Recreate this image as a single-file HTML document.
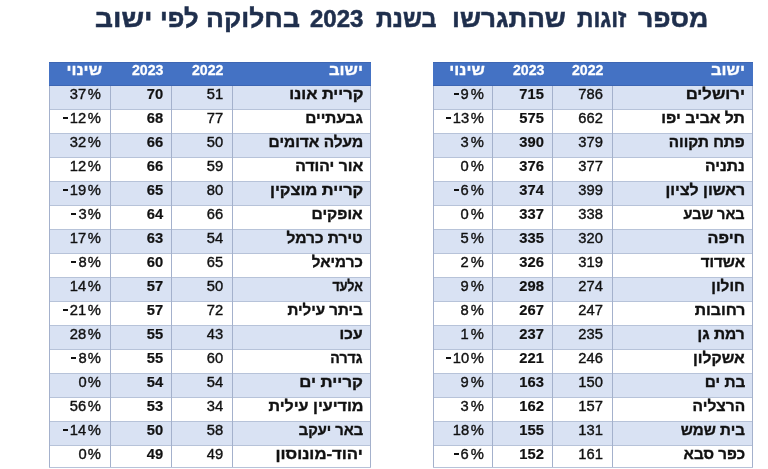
<!DOCTYPE html>
<html lang="he">
<head>
<meta charset="utf-8">
<title>מספר זוגות שהתגרשו בשנת 2023 בחלוקה לפי ישוב</title>
<style>
html,body{margin:0;padding:0;background:#fff;}
body{width:768px;height:469px;position:relative;overflow:hidden;font-family:"Liberation Sans",sans-serif;color:#111;}
.title{position:absolute;left:0;width:768px;top:1.6px;height:34px;line-height:34px;text-align:center;direction:rtl;white-space:nowrap;
  font-weight:bold;font-size:27px;color:#1f2f4d;-webkit-text-stroke:0.55px #1f2f4d;}
.title .tw{position:absolute;top:0;display:block;transform-origin:left center;direction:rtl;}
.title .yr{font-size:24px;top:0.8px;}
.pg{position:absolute;left:0;top:0;width:768px;height:469px;filter:blur(0.55px);}
.tbl{position:absolute;overflow:hidden;border-bottom:1px solid #b7c3d9;box-sizing:border-box;}
.hdr{position:absolute;left:0;top:0;width:100%;background:#4472c4;box-sizing:border-box;border-top:1px solid #3d66b3;border-bottom:1px solid #3d66b3;}
.row{position:absolute;left:0;width:100%;background:#fff;box-sizing:border-box;border-bottom:1px solid #b7c3d9;}
.row.band{background:#d9e2f3;}
.c{position:absolute;top:0;height:100%;box-sizing:border-box;padding-right:8px;padding-bottom:6px;display:flex;align-items:center;justify-content:flex-end;white-space:nowrap;}
.c span{display:inline-block;}
.c.n{font-size:15.5px;-webkit-text-stroke:0.4px #111;}
.c.n span,.c.h.nu span{transform:scaleX(0.95);transform-origin:right center;}
.c.n span.d{margin-right:1.2px;}
.c.n i.m{display:block;width:5px;height:1.6px;background:#111;}
.c.h.he span{transform:scaleY(0.9);transform-origin:right center;}
.c.b{font-weight:bold;-webkit-text-stroke:0.2px #111;padding-right:8.8px;}
.c.c1{padding-right:8.9px;}
.c.c3{padding-right:9.3px;}
.c.nm span{transform-origin:right center;}
.c.nm{font-weight:bold;font-size:16px;-webkit-text-stroke:0.4px #111;}
.c.h{color:#fff;font-weight:bold;padding-bottom:7px;}
.c.h.nu{font-size:15.5px;padding-right:8.3px;-webkit-text-stroke:0.3px #fff;}
.c.h.nu span{transform:scaleX(0.915);}
.c.h.he{font-size:16.6px;-webkit-text-stroke:0.35px #fff;}
.vl{position:absolute;width:1px;background:#a4b1cc;}
</style>
</head>
<body>
<div class="pg">
<div class="title">
<span class="tw " style="left:94.94px;transform:scale(1.0388,0.94)">ישוב</span>
<span class="tw " style="left:160.11px;transform:scale(0.9474,0.94)">לפי</span>
<span class="tw " style="left:206.13px;transform:scale(0.9809,0.94)">בחלוקה</span>
<span class="tw yr" style="left:310.00px;transform:scale(1.0000,1.0)">2023</span>
<span class="tw " style="left:376.00px;transform:scale(0.8696,0.94)">בשנת</span>
<span class="tw " style="left:452.08px;transform:scale(0.9670,0.94)">שהתגרשו</span>
<span class="tw " style="left:577.00px;transform:scale(0.8452,0.94)">זוגות</span>
<span class="tw " style="left:637.50px;transform:scale(0.9856,0.94)">מספר</span>
</div>
<div class="tbl" style="left:49px;top:61.5px;width:322px;height:406.50px">
<div class="hdr" style="height:24.0px">
<div class="c h he" style="left:0px;width:61px"><span>שינוי</span></div>
<div class="c h nu" style="left:61px;width:61.599999999999994px"><span>2023</span></div>
<div class="c h nu" style="left:122.6px;width:60.599999999999994px"><span>2022</span></div>
<div class="c h he" style="left:183.2px;width:138.8px"><span>ישוב</span></div>
</div>
<div class="row band" style="top:24.00px;height:24.0px">
<div class="c n c1" style="left:0;width:61px"><span class="d">37</span><span class="p">%</span></div>
<div class="c n b" style="left:61px;width:61.599999999999994px"><span>70</span></div>
<div class="c n c3" style="left:122.6px;width:60.599999999999994px"><span>51</span></div>
<div class="c nm" style="left:183.2px;width:138.8px"><span dir="rtl" style="transform:scale(1.0250,0.95)">קריית אונו</span></div>
</div>
<div class="row" style="top:48.00px;height:24.0px">
<div class="c n c1" style="left:0;width:61px"><i class="m" style="margin-right:0.94px"></i><span class="d">12</span><span class="p">%</span></div>
<div class="c n b" style="left:61px;width:61.599999999999994px"><span>68</span></div>
<div class="c n c3" style="left:122.6px;width:60.599999999999994px"><span>77</span></div>
<div class="c nm" style="left:183.2px;width:138.8px"><span dir="rtl" style="transform:scale(0.9619,0.95)">גבעתיים</span></div>
</div>
<div class="row band" style="top:72.00px;height:24.0px">
<div class="c n c1" style="left:0;width:61px"><span class="d">32</span><span class="p">%</span></div>
<div class="c n b" style="left:61px;width:61.599999999999994px"><span>66</span></div>
<div class="c n c3" style="left:122.6px;width:60.599999999999994px"><span>50</span></div>
<div class="c nm" style="left:183.2px;width:138.8px"><span dir="rtl" style="transform:scale(0.9635,0.95)">מעלה אדומים</span></div>
</div>
<div class="row" style="top:96.00px;height:24.0px">
<div class="c n c1" style="left:0;width:61px"><span class="d">12</span><span class="p">%</span></div>
<div class="c n b" style="left:61px;width:61.599999999999994px"><span>66</span></div>
<div class="c n c3" style="left:122.6px;width:60.599999999999994px"><span>59</span></div>
<div class="c nm" style="left:183.2px;width:138.8px"><span dir="rtl" style="transform:scale(0.9816,0.95)">אור יהודה</span></div>
</div>
<div class="row band" style="top:120.00px;height:24.0px">
<div class="c n c1" style="left:0;width:61px"><i class="m" style="margin-right:0.94px"></i><span class="d">19</span><span class="p">%</span></div>
<div class="c n b" style="left:61px;width:61.599999999999994px"><span>65</span></div>
<div class="c n c3" style="left:122.6px;width:60.599999999999994px"><span>80</span></div>
<div class="c nm" style="left:183.2px;width:138.8px"><span dir="rtl" style="transform:scale(1.0225,0.95)">קריית מוצקין</span></div>
</div>
<div class="row" style="top:144.00px;height:24.0px">
<div class="c n c1" style="left:0;width:61px"><i class="m" style="margin-right:1.37px"></i><span class="d">3</span><span class="p">%</span></div>
<div class="c n b" style="left:61px;width:61.599999999999994px"><span>64</span></div>
<div class="c n c3" style="left:122.6px;width:60.599999999999994px"><span>66</span></div>
<div class="c nm" style="left:183.2px;width:138.8px"><span dir="rtl" style="transform:scale(0.9712,0.95)">אופקים</span></div>
</div>
<div class="row band" style="top:168.00px;height:24.0px">
<div class="c n c1" style="left:0;width:61px"><span class="d">17</span><span class="p">%</span></div>
<div class="c n b" style="left:61px;width:61.599999999999994px"><span>63</span></div>
<div class="c n c3" style="left:122.6px;width:60.599999999999994px"><span>54</span></div>
<div class="c nm" style="left:183.2px;width:138.8px"><span dir="rtl" style="transform:scale(0.9679,0.95)">טירת כרמל</span></div>
</div>
<div class="row" style="top:192.00px;height:24.0px">
<div class="c n c1" style="left:0;width:61px"><i class="m" style="margin-right:1.37px"></i><span class="d">8</span><span class="p">%</span></div>
<div class="c n b" style="left:61px;width:61.599999999999994px"><span>60</span></div>
<div class="c n c3" style="left:122.6px;width:60.599999999999994px"><span>65</span></div>
<div class="c nm" style="left:183.2px;width:138.8px"><span dir="rtl" style="transform:scale(0.9471,0.95)">כרמיאל</span></div>
</div>
<div class="row band" style="top:216.00px;height:24.0px">
<div class="c n c1" style="left:0;width:61px"><span class="d">14</span><span class="p">%</span></div>
<div class="c n b" style="left:61px;width:61.599999999999994px"><span>57</span></div>
<div class="c n c3" style="left:122.6px;width:60.599999999999994px"><span>50</span></div>
<div class="c nm" style="left:183.2px;width:138.8px"><span dir="rtl" style="transform:scale(0.7821,0.95)">אלעד</span></div>
</div>
<div class="row" style="top:240.00px;height:24.0px">
<div class="c n c1" style="left:0;width:61px"><i class="m" style="margin-right:0.94px"></i><span class="d">21</span><span class="p">%</span></div>
<div class="c n b" style="left:61px;width:61.599999999999994px"><span>57</span></div>
<div class="c n c3" style="left:122.6px;width:60.599999999999994px"><span>72</span></div>
<div class="c nm" style="left:183.2px;width:138.8px"><span dir="rtl" style="transform:scale(0.9437,0.95)">ביתר עילית</span></div>
</div>
<div class="row band" style="top:264.00px;height:24.0px">
<div class="c n c1" style="left:0;width:61px"><span class="d">28</span><span class="p">%</span></div>
<div class="c n b" style="left:61px;width:61.599999999999994px"><span>55</span></div>
<div class="c n c3" style="left:122.6px;width:60.599999999999994px"><span>43</span></div>
<div class="c nm" style="left:183.2px;width:138.8px"><span dir="rtl" style="transform:scale(0.9762,0.95)">עכו</span></div>
</div>
<div class="row" style="top:288.00px;height:24.0px">
<div class="c n c1" style="left:0;width:61px"><i class="m" style="margin-right:1.37px"></i><span class="d">8</span><span class="p">%</span></div>
<div class="c n b" style="left:61px;width:61.599999999999994px"><span>55</span></div>
<div class="c n c3" style="left:122.6px;width:60.599999999999994px"><span>60</span></div>
<div class="c nm" style="left:183.2px;width:138.8px"><span dir="rtl" style="transform:scale(0.8819,0.95)">גדרה</span></div>
</div>
<div class="row band" style="top:312.00px;height:24.0px">
<div class="c n c1" style="left:0;width:61px"><span class="d">0</span><span class="p">%</span></div>
<div class="c n b" style="left:61px;width:61.599999999999994px"><span>54</span></div>
<div class="c n c3" style="left:122.6px;width:60.599999999999994px"><span>54</span></div>
<div class="c nm" style="left:183.2px;width:138.8px"><span dir="rtl" style="transform:scale(1.0466,0.95)">קריית ים</span></div>
</div>
<div class="row" style="top:336.00px;height:24.0px">
<div class="c n c1" style="left:0;width:61px"><span class="d">56</span><span class="p">%</span></div>
<div class="c n b" style="left:61px;width:61.599999999999994px"><span>53</span></div>
<div class="c n c3" style="left:122.6px;width:60.599999999999994px"><span>34</span></div>
<div class="c nm" style="left:183.2px;width:138.8px"><span dir="rtl" style="transform:scale(1.0054,0.95)">מודיעין עילית</span></div>
</div>
<div class="row band" style="top:360.00px;height:24.0px">
<div class="c n c1" style="left:0;width:61px"><i class="m" style="margin-right:0.94px"></i><span class="d">14</span><span class="p">%</span></div>
<div class="c n b" style="left:61px;width:61.599999999999994px"><span>50</span></div>
<div class="c n c3" style="left:122.6px;width:60.599999999999994px"><span>58</span></div>
<div class="c nm" style="left:183.2px;width:138.8px"><span dir="rtl" style="transform:scale(0.9179,0.95)">באר יעקב</span></div>
</div>
<div class="row" style="top:384.00px;height:24.0px">
<div class="c n c1" style="left:0;width:61px"><span class="d">0</span><span class="p">%</span></div>
<div class="c n b" style="left:61px;width:61.599999999999994px"><span>49</span></div>
<div class="c n c3" style="left:122.6px;width:60.599999999999994px"><span>49</span></div>
<div class="c nm" style="left:183.2px;width:138.8px"><span dir="rtl" style="transform:scale(1.0427,0.95)">יהוד-מונוסון</span></div>
</div>
<div class="vl" style="left:0px;top:24.0px;height:382.50px"></div>
<div class="vl" style="left:60.5px;top:24.0px;height:382.50px"></div>
<div class="vl" style="left:122.1px;top:24.0px;height:382.50px"></div>
<div class="vl" style="left:182.7px;top:24.0px;height:382.50px"></div>
<div class="vl" style="left:321px;top:24.0px;height:382.50px"></div>
</div>
<div class="tbl" style="left:433.2px;top:61.5px;width:319.8px;height:406.50px">
<div class="hdr" style="height:24.0px">
<div class="c h he" style="left:0.0px;width:59.60000000000002px"><span>שינוי</span></div>
<div class="c h nu" style="left:59.60000000000002px;width:60.19999999999999px"><span>2023</span></div>
<div class="c h nu" style="left:119.80000000000001px;width:59.200000000000045px"><span>2022</span></div>
<div class="c h he" style="left:179.00000000000006px;width:140.79999999999995px"><span>ישוב</span></div>
</div>
<div class="row band" style="top:24.00px;height:24.0px">
<div class="c n c1" style="left:0;width:59.60000000000002px"><i class="m" style="margin-right:1.37px"></i><span class="d">9</span><span class="p">%</span></div>
<div class="c n b" style="left:59.60000000000002px;width:60.19999999999999px"><span>715</span></div>
<div class="c n c3" style="left:119.80000000000001px;width:59.200000000000045px"><span>786</span></div>
<div class="c nm" style="left:179.00000000000006px;width:140.79999999999995px"><span dir="rtl" style="transform:scale(1.0409,0.95)">ירושלים</span></div>
</div>
<div class="row" style="top:48.00px;height:24.0px">
<div class="c n c1" style="left:0;width:59.60000000000002px"><i class="m" style="margin-right:0.94px"></i><span class="d">13</span><span class="p">%</span></div>
<div class="c n b" style="left:59.60000000000002px;width:60.19999999999999px"><span>575</span></div>
<div class="c n c3" style="left:119.80000000000001px;width:59.200000000000045px"><span>662</span></div>
<div class="c nm" style="left:179.00000000000006px;width:140.79999999999995px"><span dir="rtl" style="transform:scale(0.9849,0.95)">תל אביב יפו</span></div>
</div>
<div class="row band" style="top:72.00px;height:24.0px">
<div class="c n c1" style="left:0;width:59.60000000000002px"><span class="d">3</span><span class="p">%</span></div>
<div class="c n b" style="left:59.60000000000002px;width:60.19999999999999px"><span>390</span></div>
<div class="c n c3" style="left:119.80000000000001px;width:59.200000000000045px"><span>379</span></div>
<div class="c nm" style="left:179.00000000000006px;width:140.79999999999995px"><span dir="rtl" style="transform:scale(0.9519,0.95)">פתח תקווה</span></div>
</div>
<div class="row" style="top:96.00px;height:24.0px">
<div class="c n c1" style="left:0;width:59.60000000000002px"><span class="d">0</span><span class="p">%</span></div>
<div class="c n b" style="left:59.60000000000002px;width:60.19999999999999px"><span>376</span></div>
<div class="c n c3" style="left:119.80000000000001px;width:59.200000000000045px"><span>377</span></div>
<div class="c nm" style="left:179.00000000000006px;width:140.79999999999995px"><span dir="rtl" style="transform:scale(0.9744,0.95)">נתניה</span></div>
</div>
<div class="row band" style="top:120.00px;height:24.0px">
<div class="c n c1" style="left:0;width:59.60000000000002px"><i class="m" style="margin-right:1.37px"></i><span class="d">6</span><span class="p">%</span></div>
<div class="c n b" style="left:59.60000000000002px;width:60.19999999999999px"><span>374</span></div>
<div class="c n c3" style="left:119.80000000000001px;width:59.200000000000045px"><span>399</span></div>
<div class="c nm" style="left:179.00000000000006px;width:140.79999999999995px"><span dir="rtl" style="transform:scale(0.9936,0.95)">ראשון לציון</span></div>
</div>
<div class="row" style="top:144.00px;height:24.0px">
<div class="c n c1" style="left:0;width:59.60000000000002px"><span class="d">0</span><span class="p">%</span></div>
<div class="c n b" style="left:59.60000000000002px;width:60.19999999999999px"><span>337</span></div>
<div class="c n c3" style="left:119.80000000000001px;width:59.200000000000045px"><span>338</span></div>
<div class="c nm" style="left:179.00000000000006px;width:140.79999999999995px"><span dir="rtl" style="transform:scale(0.9030,0.95)">באר שבע</span></div>
</div>
<div class="row band" style="top:168.00px;height:24.0px">
<div class="c n c1" style="left:0;width:59.60000000000002px"><span class="d">5</span><span class="p">%</span></div>
<div class="c n b" style="left:59.60000000000002px;width:60.19999999999999px"><span>335</span></div>
<div class="c n c3" style="left:119.80000000000001px;width:59.200000000000045px"><span>320</span></div>
<div class="c nm" style="left:179.00000000000006px;width:140.79999999999995px"><span dir="rtl" style="transform:scale(1.0143,0.95)">חיפה</span></div>
</div>
<div class="row" style="top:192.00px;height:24.0px">
<div class="c n c1" style="left:0;width:59.60000000000002px"><span class="d">2</span><span class="p">%</span></div>
<div class="c n b" style="left:59.60000000000002px;width:60.19999999999999px"><span>326</span></div>
<div class="c n c3" style="left:119.80000000000001px;width:59.200000000000045px"><span>319</span></div>
<div class="c nm" style="left:179.00000000000006px;width:140.79999999999995px"><span dir="rtl" style="transform:scale(0.9415,0.95)">אשדוד</span></div>
</div>
<div class="row band" style="top:216.00px;height:24.0px">
<div class="c n c1" style="left:0;width:59.60000000000002px"><span class="d">9</span><span class="p">%</span></div>
<div class="c n b" style="left:59.60000000000002px;width:60.19999999999999px"><span>298</span></div>
<div class="c n c3" style="left:119.80000000000001px;width:59.200000000000045px"><span>274</span></div>
<div class="c nm" style="left:179.00000000000006px;width:140.79999999999995px"><span dir="rtl" style="transform:scale(0.9621,0.95)">חולון</span></div>
</div>
<div class="row" style="top:240.00px;height:24.0px">
<div class="c n c1" style="left:0;width:59.60000000000002px"><span class="d">8</span><span class="p">%</span></div>
<div class="c n b" style="left:59.60000000000002px;width:60.19999999999999px"><span>267</span></div>
<div class="c n c3" style="left:119.80000000000001px;width:59.200000000000045px"><span>247</span></div>
<div class="c nm" style="left:179.00000000000006px;width:140.79999999999995px"><span dir="rtl" style="transform:scale(0.9850,0.95)">רחובות</span></div>
</div>
<div class="row band" style="top:264.00px;height:24.0px">
<div class="c n c1" style="left:0;width:59.60000000000002px"><span class="d">1</span><span class="p">%</span></div>
<div class="c n b" style="left:59.60000000000002px;width:60.19999999999999px"><span>237</span></div>
<div class="c n c3" style="left:119.80000000000001px;width:59.200000000000045px"><span>235</span></div>
<div class="c nm" style="left:179.00000000000006px;width:140.79999999999995px"><span dir="rtl" style="transform:scale(0.9681,0.95)">רמת גן</span></div>
</div>
<div class="row" style="top:288.00px;height:24.0px">
<div class="c n c1" style="left:0;width:59.60000000000002px"><i class="m" style="margin-right:0.94px"></i><span class="d">10</span><span class="p">%</span></div>
<div class="c n b" style="left:59.60000000000002px;width:60.19999999999999px"><span>221</span></div>
<div class="c n c3" style="left:119.80000000000001px;width:59.200000000000045px"><span>246</span></div>
<div class="c nm" style="left:179.00000000000006px;width:140.79999999999995px"><span dir="rtl" style="transform:scale(0.9808,0.95)">אשקלון</span></div>
</div>
<div class="row band" style="top:312.00px;height:24.0px">
<div class="c n c1" style="left:0;width:59.60000000000002px"><span class="d">9</span><span class="p">%</span></div>
<div class="c n b" style="left:59.60000000000002px;width:60.19999999999999px"><span>163</span></div>
<div class="c n c3" style="left:119.80000000000001px;width:59.200000000000045px"><span>150</span></div>
<div class="c nm" style="left:179.00000000000006px;width:140.79999999999995px"><span dir="rtl" style="transform:scale(0.9573,0.95)">בת ים</span></div>
</div>
<div class="row" style="top:336.00px;height:24.0px">
<div class="c n c1" style="left:0;width:59.60000000000002px"><span class="d">3</span><span class="p">%</span></div>
<div class="c n b" style="left:59.60000000000002px;width:60.19999999999999px"><span>162</span></div>
<div class="c n c3" style="left:119.80000000000001px;width:59.200000000000045px"><span>157</span></div>
<div class="c nm" style="left:179.00000000000006px;width:140.79999999999995px"><span dir="rtl" style="transform:scale(0.9712,0.95)">הרצליה</span></div>
</div>
<div class="row band" style="top:360.00px;height:24.0px">
<div class="c n c1" style="left:0;width:59.60000000000002px"><span class="d">18</span><span class="p">%</span></div>
<div class="c n b" style="left:59.60000000000002px;width:60.19999999999999px"><span>155</span></div>
<div class="c n c3" style="left:119.80000000000001px;width:59.200000000000045px"><span>131</span></div>
<div class="c nm" style="left:179.00000000000006px;width:140.79999999999995px"><span dir="rtl" style="transform:scale(0.9449,0.95)">בית שמש</span></div>
</div>
<div class="row" style="top:384.00px;height:24.0px">
<div class="c n c1" style="left:0;width:59.60000000000002px"><i class="m" style="margin-right:1.37px"></i><span class="d">6</span><span class="p">%</span></div>
<div class="c n b" style="left:59.60000000000002px;width:60.19999999999999px"><span>152</span></div>
<div class="c n c3" style="left:119.80000000000001px;width:59.200000000000045px"><span>161</span></div>
<div class="c nm" style="left:179.00000000000006px;width:140.79999999999995px"><span dir="rtl" style="transform:scale(0.9453,0.95)">כפר סבא</span></div>
</div>
<div class="vl" style="left:0px;top:24.0px;height:382.50px"></div>
<div class="vl" style="left:59.10000000000002px;top:24.0px;height:382.50px"></div>
<div class="vl" style="left:119.30000000000001px;top:24.0px;height:382.50px"></div>
<div class="vl" style="left:178.50000000000006px;top:24.0px;height:382.50px"></div>
<div class="vl" style="left:318.8px;top:24.0px;height:382.50px"></div>
</div>
</div>
</body>
</html>
